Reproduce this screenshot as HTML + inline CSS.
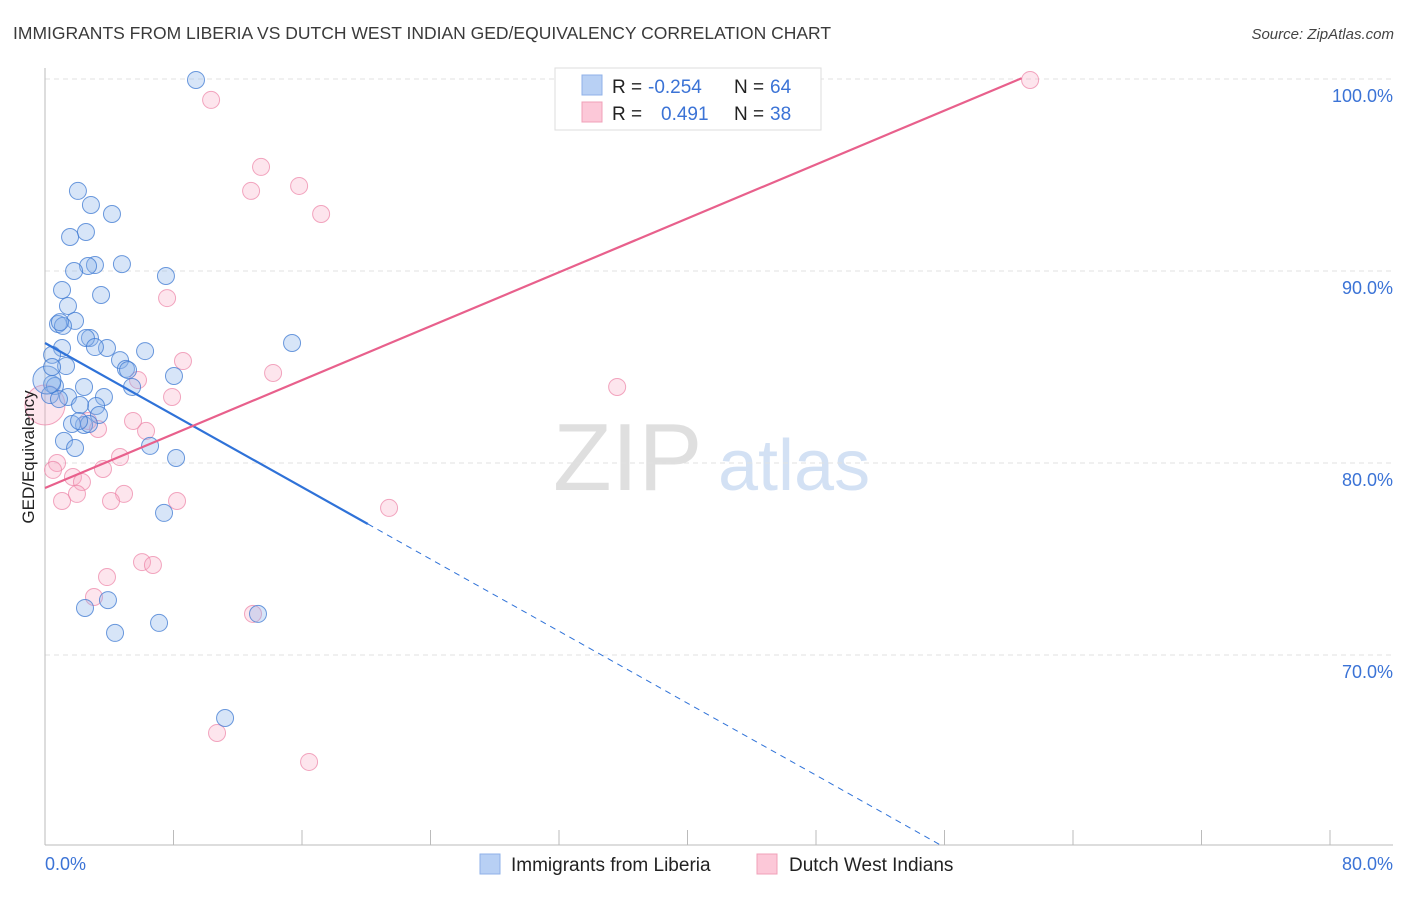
<!DOCTYPE html>
<html><head><meta charset="utf-8"><style>
body{margin:0;background:#fff;font-family:"Liberation Sans",sans-serif;}
svg text{font-family:"Liberation Sans",sans-serif;}
</style></head><body>
<svg id="chart" width="1406" height="892" viewBox="0 0 1406 892" xmlns="http://www.w3.org/2000/svg">
<text x="13" y="39" font-size="17.5" fill="#3a3a3a">IMMIGRANTS FROM LIBERIA VS DUTCH WEST INDIAN GED/EQUIVALENCY CORRELATION CHART</text>
<text x="1394" y="39" font-size="15" fill="#444" text-anchor="end" font-style="italic">Source: ZipAtlas.com</text>
<g>
<text x="553" y="490" font-size="96" fill="#d8d8d8" font-family="Liberation Serif,serif" opacity="0.8">ZIP</text>
<text x="718" y="490" font-size="72" fill="#c9daf2" opacity="0.8">atlas</text>
</g>
<g id="grid"></g>
<g id="axes"></g>
<g id="marks"></g>
<text transform="translate(34,457) rotate(-90)" font-size="17" fill="#222" text-anchor="middle">GED/Equivalency</text>
<g>
<rect x="555" y="68" width="266" height="62" fill="#fff" stroke="#ddd"/>
<rect x="582" y="75" width="20" height="20" fill="#b8d0f4" stroke="#8fb1e8"/>
<rect x="582" y="102" width="20" height="20" fill="#fcc8d8" stroke="#f0a0b8"/>
<text x="612" y="93" font-size="19" fill="#222">R = </text><text x="648" y="93" font-size="19" fill="#3b73d6">-0.254</text>
<text x="734" y="93" font-size="19" fill="#222">N = </text><text x="770" y="93" font-size="19" fill="#3b73d6">64</text>
<text x="612" y="120" font-size="19" fill="#222">R = </text><text x="661" y="120" font-size="19" fill="#3b73d6">0.491</text>
<text x="734" y="120" font-size="19" fill="#222">N = </text><text x="770" y="120" font-size="19" fill="#3b73d6">38</text>
</g>
<g>
<rect x="480" y="854" width="20" height="20" fill="#b8d0f4" stroke="#8fb1e8"/>
<text x="511" y="871" font-size="19" fill="#222">Immigrants from Liberia</text>
<rect x="757" y="854" width="20" height="20" fill="#fcc8d8" stroke="#f0a0b8"/>
<text x="789" y="871" font-size="19" fill="#222">Dutch West Indians</text>
</g>
</svg>
<script>
const yTicks=[70,80,90,100];
const yTickLabels=["70.0%","80.0%","90.0%","100.0%"];
const xTickVals=[0,8,16,24,32,40,48,56,64,72,80];
const xEndLabels=["0.0%","80.0%"];
const blueX=[9.40,2.05,2.86,4.17,2.55,1.56,3.11,4.79,2.68,1.81,7.53,3.49,1.06,1.43,1.87,0.81,1.12,2.80,2.55,3.86,3.11,1.06,6.23,15.38,0.44,4.67,1.31,5.04,5.17,8.03,0.44,0.62,2.43,5.42,0.31,3.67,1.43,0.87,3.18,2.18,3.36,2.43,1.68,2.74,6.54,1.18,1.87,8.16,7.41,3.92,2.49,4.36,7.10,13.26,11.21,0.12,0.44,0.93,2.12];
const blueY=[99.95,94.17,93.44,92.97,92.03,91.77,90.31,90.36,90.26,90.0,89.74,88.75,89.01,88.18,87.40,87.24,87.14,86.51,86.51,85.99,86.04,85.99,85.83,86.25,85.63,85.36,85.05,84.90,84.84,84.53,84.11,84.01,83.96,83.96,83.54,83.44,83.44,83.33,82.97,83.02,82.50,81.98,82.03,82.03,80.89,81.15,80.78,80.26,77.40,72.86,72.45,71.15,71.67,72.14,66.72,84.32,85.0,87.34,82.19];
const pinkX=[61.33,10.34,13.45,12.83,15.82,17.19,7.60,8.59,14.20,35.62,5.79,7.91,2.68,5.48,3.30,6.29,4.67,3.61,0.75,0.50,1.74,2.30,1.99,4.92,8.22,4.11,1.06,21.42,6.04,6.72,3.86,3.05,12.95,10.71,16.44,0];
const pinkY=[99.95,98.91,95.42,94.17,94.43,92.97,88.59,85.31,84.69,83.96,84.32,83.44,82.19,82.19,81.77,81.67,80.31,79.69,80.0,79.64,79.27,79.01,78.39,78.39,78.02,78.02,78.02,77.66,74.84,74.69,74.06,73.02,72.14,65.94,64.43,83.02];
const blueTrend=[86.25,-0.469];
const pinkTrend=[78.7,0.351];
const X=v=>45+v/80*1285;
const Y=v=>463-(v-80)*19.2;
const NS="http://www.w3.org/2000/svg";
function mk(tag,attrs,parent){const e=document.createElementNS(NS,tag);for(const k in attrs)e.setAttribute(k,attrs[k]);parent.appendChild(e);return e;}
const grid=document.getElementById('grid'),axes=document.getElementById('axes'),marks=document.getElementById('marks');
yTicks.forEach((t,i)=>{
 const l=mk('line',{x1:45,x2:1393,y1:Y(t),y2:Y(t),stroke:'#e2e2e2','stroke-dasharray':'5,4'},grid);
 
 
 const tx=mk('text',{x:1393,y:Y(t)+23,'font-size':18,fill:'#3b73d6','text-anchor':'end'},axes);
 tx.textContent=yTickLabels[i];
 
 
});
const ya=mk('line',{x1:45,x2:45,y1:68,y2:845,stroke:'#bbb'},axes);


const xa=mk('line',{x1:45,x2:1393,y1:845,y2:845,stroke:'#bbb'},axes);


xTickVals.forEach(t=>{
 const l=mk('line',{x1:X(t),x2:X(t),y1:830,y2:845,stroke:'#bbb'},axes);
 
 
});
const xl0=mk('text',{x:45,y:870,'font-size':18,fill:'#3b73d6'},axes);xl0.textContent=xEndLabels[0];


const xl1=mk('text',{x:1393,y:870,'font-size':18,fill:'#3b73d6','text-anchor':'end'},axes);xl1.textContent=xEndLabels[1];


pinkX.forEach((x,i)=>{
 const r=(i===pinkX.length-1)?20:8.5;
 const c=mk('circle',{cx:X(x),cy:Y(pinkY[i]),r:r,fill:'rgba(248,170,195,0.3)',stroke:'rgba(236,130,165,0.7)','stroke-width':1},marks);
 
 
});
blueX.forEach((x,i)=>{
 const r=(i===55)?14:8.5;
 const c=mk('circle',{cx:X(x),cy:Y(blueY[i]),r:r,fill:'rgba(140,180,235,0.35)',stroke:'rgba(60,120,210,0.75)','stroke-width':1},marks);
 
 
});
const bEnd=20.1,bDash=(60.1-blueTrend[0])/blueTrend[1];
const bl=mk('line',{x1:X(0),y1:Y(blueTrend[0]),x2:X(bEnd),y2:Y(blueTrend[0]+blueTrend[1]*bEnd),stroke:'#2f72d8','stroke-width':2.2},marks);


const bd=mk('line',{x1:X(bEnd),y1:Y(blueTrend[0]+blueTrend[1]*bEnd),x2:X(bDash),y2:Y(60.1),stroke:'#2f72d8','stroke-width':1,'stroke-dasharray':'6,5'},marks);


const pEnd=60.8;
const pl=mk('line',{x1:X(0),y1:Y(pinkTrend[0]),x2:X(pEnd),y2:Y(pinkTrend[0]+pinkTrend[1]*pEnd),stroke:'#e8608c','stroke-width':2.2},marks);


</script>
</body></html>
